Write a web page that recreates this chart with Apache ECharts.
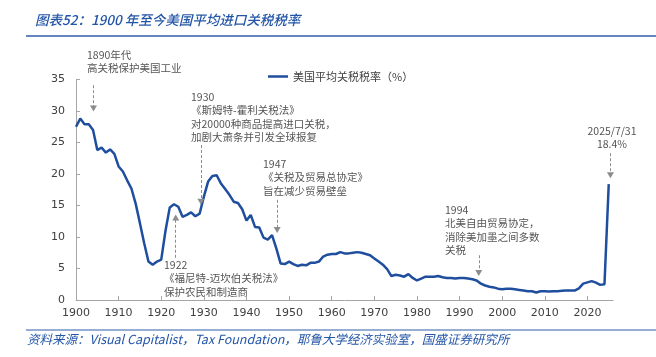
<!DOCTYPE html>
<html><head><meta charset="utf-8">
<script src="https://cdn.jsdelivr.net/npm/echarts@6/dist/echarts.min.js"></script>
<style>html,body{margin:0;padding:0;background:#fff}#c{width:656px;height:357px}</style>
</head><body><div id="c"></div>
<script>
const years = [1900,1901,1902,1903,1904,1905,1906,1907,1908,1909,
1910,1911,1912,1913,1914,1915,1916,1917,1918,1919,
1920,1921,1922,1923,1924,1925,1926,1927,1928,1929,
1930,1931,1932,1933,1934,1935,1936,1937,1938,1939,
1940,1941,1942,1943,1944,1945,1946,1947,1948,1949,
1950,1951,1952,1953,1954,1955,1956,1957,1958,1959,
1960,1961,1962,1963,1964,1965,1966,1967,1968,1969,
1970,1971,1972,1973,1974,1975,1976,1977,1978,1979,
1980,1981,1982,1983,1984,1985,1986,1987,1988,1989,
1990,1991,1992,1993,1994,1995,1996,1997,1998,1999,
2000,2001,2002,2003,2004,2005,2006,2007,2008,2009,
2010,2011,2012,2013,2014,2015,2016,2017,2018,2019,
2020,2021,2022,2023,2024,2025];
const tariffRate = [27.5,28.8,27.9,27.9,27.0,23.8,24.2,23.4,23.9,23.2,
21.2,20.4,19.0,17.7,15.3,12.2,9.0,6.1,5.6,6.1,
6.4,11.0,14.7,15.2,14.8,13.2,13.5,13.9,13.3,13.7,
16.4,18.8,19.7,19.8,18.5,17.6,16.7,15.6,15.4,14.4,
12.6,13.5,11.6,11.5,9.9,9.6,10.3,8.2,5.8,5.7,
6.1,5.7,5.4,5.6,5.5,5.9,5.9,6.1,6.9,7.2,
7.3,7.3,7.6,7.4,7.4,7.5,7.6,7.5,7.3,7.1,
6.6,6.1,5.6,4.9,3.8,4.0,3.9,3.7,4.1,3.5,
3.1,3.4,3.7,3.7,3.7,3.8,3.6,3.5,3.5,3.4,
3.5,3.5,3.4,3.3,3.1,2.6,2.3,2.1,2.0,1.8,
1.7,1.8,1.8,1.7,1.6,1.5,1.4,1.4,1.2,1.4,
1.4,1.35,1.4,1.4,1.45,1.5,1.5,1.5,1.85,2.6,
2.8,3.0,2.75,2.4,2.5,18.4];
const seriesName = '美国平均关税税率（%）';
const titleText = '图表52：1900 年至今美国平均进口关税税率';
const sourceText = '资料来源：Visual Capitalist，Tax Foundation，耶鲁大学经济实验室，国盛证券研究所';
const yTicks = [0,5,10,15,20,25,30,35];
const xTickYears = [1900,1910,1920,1930,1940,1950,1960,1970,1980,1990,2000,2010,2020];

// annotation arrows in data units: [year, fromValue, toValue]
const arrows = [
  [1904.1, 34.1, 30.4],
  [1929.3, 24.6, 15.6],
  [1947.2, 15.9, 11.1],
  [1923.4, 6.7, 13.1],
  [1994.5, 7.1, 4.3],
  [2025.4, 23.3, 19.8]
];
const notes = [
  {text:'1890年代\n高关税保护美国工业', x:87, y:48},
  {text:'1930\n《斯姆特-霍利关税法》\n对20000种商品提高进口关税，\n加剧大萧条并引发全球报复', x:191, y:90},
  {text:'1947\n《关税及贸易总协定》\n旨在减少贸易壁垒', x:263, y:157},
  {text:'1922\n《福尼特-迈坎伯关税法》\n保护农民和制造商', x:164, y:258},
  {text:'1994\n北美自由贸易协定，\n消除美加墨之间多数\n关税', x:445, y:203},
  {text:'2025/7/31\n18.4%', x:612, y:124, align:'center'}
];

const chart = echarts.init(document.getElementById('c'), null, {renderer:'canvas'});
const cjk = '"Noto Sans CJK SC", sans-serif';
const graphics = [
  {type:'text', left:35, top:13, style:{text:titleText, fill:'#2456A8', font:'italic 500 13.5px ' + cjk}},
  {type:'line', shape:{x1:26,y1:36,x2:656,y2:36}, style:{stroke:'#2F5EAA', lineWidth:1.5}},
  {type:'line', shape:{x1:26,y1:330,x2:656,y2:330}, style:{stroke:'#2F5EAA', lineWidth:1.2}},
  {type:'text', left:27, top:333, style:{text:sourceText, fill:'#2456A8', font:'italic 12.5px ' + cjk}}
];
notes.forEach(n => {
  graphics.push({type:'text', x:n.x, y:n.y, style:{text:n.text, fill:'#555555', font:'10.5px ' + cjk, lineHeight:13.5, align:n.align||'left', verticalAlign:'top'}});
});

chart.setOption({
  animation:false,
  grid:{left:76, right:43, top:79.5, bottom:57, containLabel:false},
  legend:{left:263, top:66, icon:'rect', itemWidth:20, itemHeight:2.5, itemGap:10,
    textStyle:{fontSize:11, color:'#404040', fontFamily:'"Noto Sans CJK SC"'},
    data:[seriesName]},
  xAxis:{type:'value', min:1900, max:2026, interval:10,
    axisLine:{lineStyle:{color:'#A6A6A6'}},
    axisTick:{inside:true, length:4, lineStyle:{color:'#A6A6A6'}},
    splitLine:{show:false},
    axisLabel:{margin:8, fontSize:11, color:'#404040', fontFamily:'DejaVu Sans',
      showMaxLabel:false,
      formatter: v => xTickYears.indexOf(v) >= 0 ? String(v) : ''}},
  yAxis:{type:'value', min:0, max:35, interval:5,
    axisLine:{show:true, lineStyle:{color:'#A6A6A6'}},
    axisTick:{show:true, inside:true, length:4, lineStyle:{color:'#A6A6A6'}},
    splitLine:{show:false},
    axisLabel:{margin:11, fontSize:11, color:'#404040', fontFamily:'DejaVu Sans',
      formatter: v => yTicks.indexOf(v) >= 0 ? String(v) : ''}},
  graphic: graphics,
  series:[{
    name:seriesName, type:'line', symbol:'none', smooth:false,
    data: years.map((y,i) => [y, tariffRate[i]]),
    lineStyle:{color:'#1F4E9F', width:2.5},
    itemStyle:{color:'#1F4E9F'},
    markLine:{silent:true, symbol:['none','triangle'], symbolSize:[7,6],
      label:{show:false},
      lineStyle:{color:'#8C8C8C', type:[3,2], width:1},
      emphasis:{disabled:true},
      data: arrows.map(a => [{coord:[a[0], a[1]]}, {coord:[a[0], a[2]]}])
    }
  }]
});
</script></body></html>
